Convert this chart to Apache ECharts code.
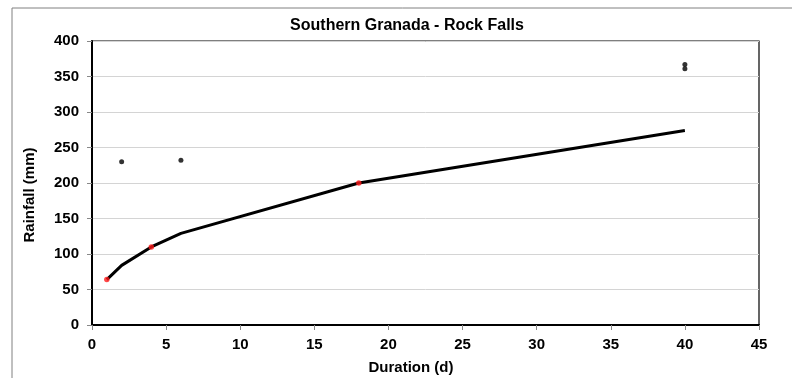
<!DOCTYPE html>
<html>
<head>
<meta charset="utf-8">
<script src="https://cdn.jsdelivr.net/npm/echarts@6/dist/echarts.min.js"></script>
<style>
  html, body { margin: 0; padding: 0; background: #fff; }
  #chart { width: 792px; height: 378px; }
</style>
</head>
<body>
<div id="chart"></div>
<script>
// Rainfall threshold curve (piecewise through the fitted nodes)
const curveDuration = [1, 2, 4, 6, 18, 40];
const curveRainfall = [64, 84, 110, 129, 200, 274];

// Threshold nodes highlighted in red
const nodeDuration = [1, 4, 18];
const nodeRainfall = [64, 110, 200];

// Observed rainfall events that triggered rock falls
const eventDuration = [2, 6, 40, 40];
const eventRainfall = [230, 232, 361, 367];

const xTicks = { min: 0, max: 45, step: 5 };
const yTicks = { min: 0, max: 400, step: 50 };

const titleText = 'Southern Granada - Rock Falls';
const xName = 'Duration (d)';
const yName = 'Rainfall (mm)';

const pairs = (xs, ys) => xs.map((x, i) => [x, ys[i]]);

const font = '"Liberation Sans", Arial, sans-serif';
const chart = echarts.init(document.getElementById('chart'), null, { renderer: 'canvas' });

chart.setOption({
  animation: false,
  backgroundColor: '#fff',
  grid: {
    left: 92, right: 33, top: 41, bottom: 53,
    show: true, borderColor: '#000', borderWidth: 1.2, backgroundColor: 'transparent'
  },
  graphic: [
    { type: 'rect', shape: { x: 12, y: 8, width: 900, height: 500 },
      style: { fill: 'none', stroke: '#808080', lineWidth: 1 }, silent: true, z: -1 },
    { type: 'text', x: 407, y: 26,
      style: { text: titleText, font: 'bold 16px ' + font, fill: '#000', align: 'center', verticalAlign: 'middle' } },
    { type: 'text', x: 411, y: 368,
      style: { text: xName, font: 'bold 15px ' + font, fill: '#000', align: 'center', verticalAlign: 'middle' } },
    { type: 'text', x: 30, y: 195, rotation: Math.PI / 2,
      style: { text: yName, font: 'bold 15px ' + font, fill: '#000', align: 'center', verticalAlign: 'middle' } }
  ],
  xAxis: {
    type: 'value', min: xTicks.min, max: xTicks.max, interval: xTicks.step,
    axisLine: { show: true, onZero: false, lineStyle: { color: '#000', width: 2 } },
    axisTick: { show: true, length: 5, lineStyle: { color: '#888' } },
    splitLine: { show: false },
    axisLabel: { margin: 12, color: '#000', fontSize: 15, fontWeight: 'bold', fontFamily: font }
  },
  yAxis: {
    type: 'value', min: yTicks.min, max: yTicks.max, interval: yTicks.step,
    axisLine: { show: true, onZero: false, lineStyle: { color: '#000', width: 2 } },
    axisTick: { show: true, length: 5, lineStyle: { color: '#888' } },
    splitLine: { show: true, lineStyle: { color: '#d4d4d4', width: 1 } },
    axisLabel: { margin: 13, color: '#000', fontSize: 15, fontWeight: 'bold', fontFamily: font }
  },
  series: [
    {
      type: 'line', data: pairs(curveDuration, curveRainfall),
      showSymbol: false, symbol: 'none',
      lineStyle: { color: '#000', width: 3 }, z: 2
    },
    {
      type: 'scatter', data: pairs(nodeDuration, nodeRainfall),
      symbol: 'circle', symbolSize: 5.5,
      itemStyle: { color: '#ff1a1a' }, z: 3
    },
    {
      type: 'scatter', data: pairs(eventDuration, eventRainfall),
      symbol: 'circle', symbolSize: 5,
      itemStyle: { color: '#000' }, z: 3
    }
  ]
});
</script>
</body>
</html>
